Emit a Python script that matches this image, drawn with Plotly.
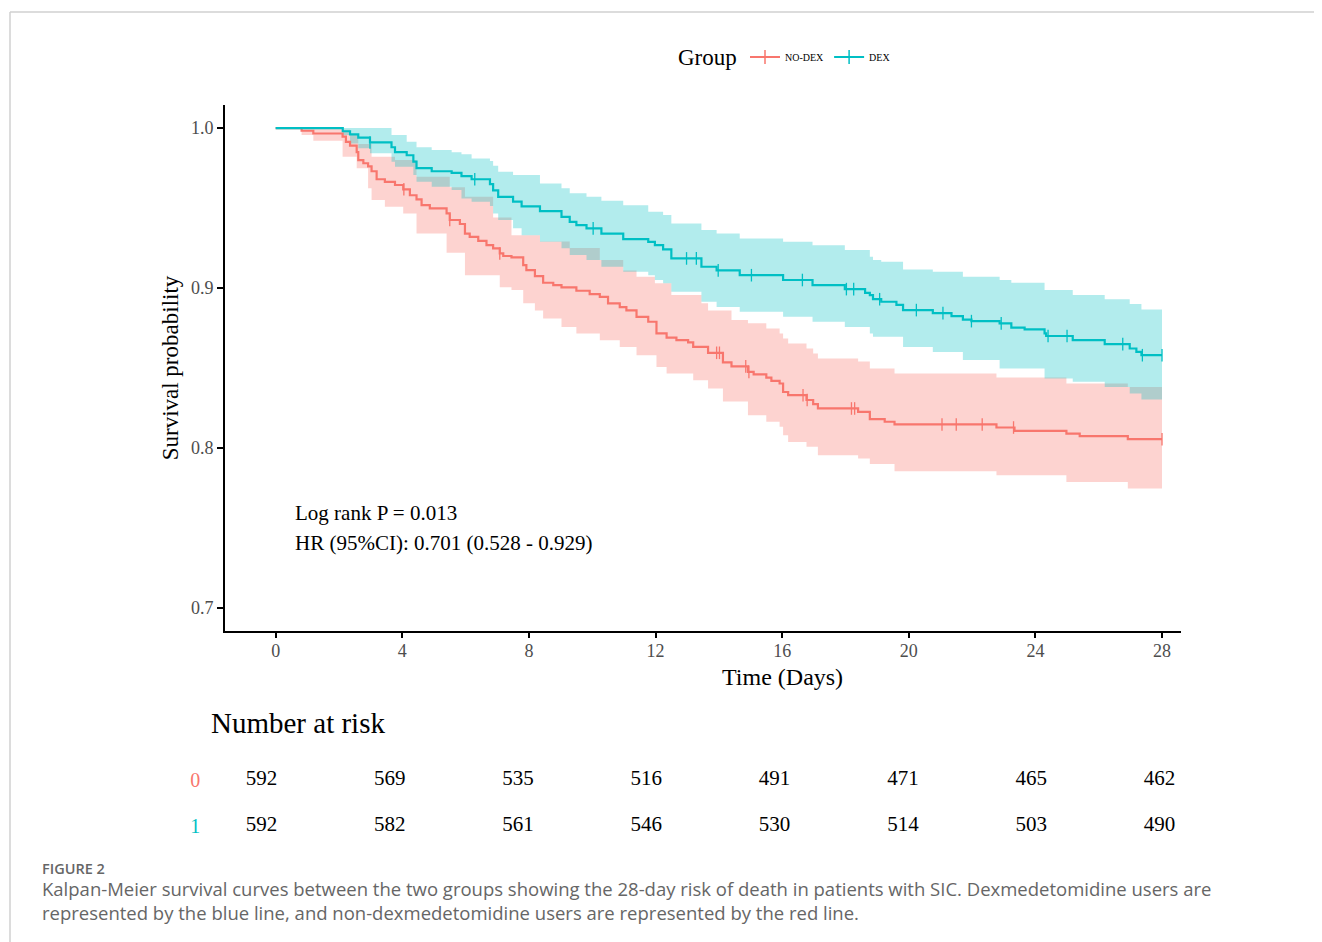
import numpy as np
import plotly.graph_objects as go

# ---------------- data ----------------
groups = ["NO-DEX", "DEX"]
strata_labels = ["0", "1"]
colors = ["#F8766D", "#00BFC4"]
fills = ["rgba(248,118,109,0.32)", "rgba(0,191,196,0.30)"]

# NO-DEX (stratum 0): Kaplan-Meier steps
t0 = [0, 0.82, 1.19, 2.115, 2.22, 2.35, 2.56, 2.61, 2.77, 2.92, 3.03, 3.19, 3.45, 3.77, 4.03, 4.24,
      4.45, 4.61, 4.87, 5.40, 5.50, 5.82, 5.98, 6.13, 6.40, 6.66, 6.87, 7.08, 7.19, 7.45, 7.82, 7.92,
      8.19, 8.45, 8.77, 9.03, 9.50, 9.92, 10.24, 10.50, 10.87, 11.08, 11.40, 11.77, 12.03, 12.35,
      12.66, 13.03, 13.19, 13.66, 14.13, 14.40, 14.92, 15.10, 15.50, 15.66, 15.92, 16.03, 16.19,
      16.77, 16.98, 17.13, 18.40, 18.77, 19.24, 19.55, 22.77, 23.34, 24.98, 25.40, 26.92, 28.0]
s0 = [1.0, 0.9983, 0.9966, 0.9946, 0.9914, 0.989, 0.985, 0.980, 0.978, 0.976, 0.973, 0.968, 0.9664,
      0.9644, 0.9617, 0.958, 0.9554, 0.9518, 0.9498, 0.9466, 0.9425, 0.940, 0.934, 0.932, 0.9295,
      0.9268, 0.9248, 0.9216, 0.920, 0.9191, 0.9143, 0.9112, 0.9074, 0.9033, 0.9018, 0.9004, 0.8983,
      0.8962, 0.8945, 0.8904, 0.888, 0.886, 0.882, 0.8789, 0.8716, 0.869, 0.8674, 0.866, 0.8632,
      0.8595, 0.8535, 0.851, 0.8476, 0.846, 0.844, 0.842, 0.8403, 0.835, 0.833, 0.830, 0.8274, 0.8247,
      0.8226, 0.818, 0.8164, 0.8147, 0.8128, 0.8107, 0.809, 0.8074, 0.8055, 0.8055]
# NO-DEX confidence band
tu0 = [0, 2.115, 2.35, 2.61, 3.03, 3.77, 4.45, 5.50, 5.98, 6.87, 7.45, 8.35, 9.29, 10.24, 10.98,
       11.40, 11.98, 12.50, 13.45, 13.66, 14.40, 14.92, 15.50, 15.92, 16.03, 16.19, 16.77, 16.98,
       17.13, 18.40, 18.77, 19.55, 22.77, 24.98, 26.92, 28.0]
u0 = [1.0, 0.999, 0.9956, 0.990, 0.982, 0.980, 0.9696, 0.963, 0.957, 0.944, 0.933, 0.929, 0.925,
      0.9175, 0.911, 0.907, 0.903, 0.8956, 0.8904, 0.886, 0.880, 0.8779, 0.8747, 0.8716, 0.8685,
      0.8653, 0.8622, 0.859, 0.856, 0.854, 0.8497, 0.8466, 0.844, 0.8403, 0.8382, 0.8382]
tl0 = [0, 0.82, 1.19, 2.115, 2.56, 2.92, 3.03, 3.45, 4.03, 4.45, 5.40, 5.98, 7.08, 7.45, 7.82, 8.19,
       8.45, 9.03, 9.50, 10.24, 10.87, 11.40, 12.03, 12.35, 13.19, 13.66, 14.13, 14.92, 15.50, 15.92,
       16.03, 16.19, 16.77, 17.13, 18.40, 18.77, 19.55, 22.77, 24.98, 26.92, 28.0]
l0 = [1.0, 0.9956, 0.992, 0.982, 0.9748, 0.9623, 0.955, 0.9508, 0.9466, 0.934, 0.922, 0.908, 0.9005,
      0.8987, 0.8904, 0.886, 0.881, 0.8757, 0.8716, 0.8674, 0.8632, 0.858, 0.8507, 0.8466, 0.8424,
      0.8372, 0.829, 0.8205, 0.8164, 0.8132, 0.808, 0.8038, 0.8007, 0.7955, 0.7934, 0.790, 0.7855,
      0.783, 0.7788, 0.7747, 0.7747]
c0 = [4.05, 5.50, 7.08, 13.93, 14.02, 14.85, 14.95, 16.66, 16.79, 18.19, 18.29, 21.05, 21.50,
      22.32, 23.31, 28.0]

# DEX (stratum 1)
t1 = [0, 2.12, 2.35, 2.61, 2.98, 3.66, 3.77, 4.14, 4.35, 4.45, 4.93, 5.56, 5.87, 6.19, 6.77, 6.87,
      7.03, 7.50, 7.77, 8.35, 9.03, 9.29, 9.50, 9.82, 10.29, 10.98, 11.77, 11.98, 12.24, 12.50, 13.45,
      13.93, 14.66, 16.03, 16.96, 17.98, 18.62, 18.77, 18.87, 19.13, 19.61, 19.82, 20.76, 21.35,
      21.71, 21.98, 22.87, 23.24, 23.66, 24.29, 24.34, 25.18, 26.19, 26.98, 27.19, 27.35, 28.0]
s1 = [1.0, 0.998, 0.996, 0.994, 0.991, 0.988, 0.985, 0.983, 0.979, 0.975, 0.973, 0.972, 0.970, 0.968,
      0.965, 0.961, 0.957, 0.954, 0.951, 0.948, 0.9445, 0.9414, 0.9393, 0.9373, 0.934, 0.9306, 0.9289,
      0.9268, 0.9241, 0.9185, 0.9133, 0.911, 0.908, 0.905, 0.9018, 0.8993, 0.897, 0.8955, 0.893,
      0.8914, 0.8895, 0.8862, 0.8843, 0.8824, 0.8803, 0.8793, 0.8779, 0.8753, 0.8741, 0.8716, 0.870,
      0.8674, 0.8649, 0.8622, 0.8601, 0.858, 0.858]
tu1 = [0, 3.66, 4.14, 4.45, 4.93, 5.56, 5.87, 6.19, 6.77, 6.87, 7.03, 7.50, 8.35, 9.03, 9.29, 9.82,
       10.29, 10.98, 11.77, 12.24, 12.50, 13.45, 13.93, 14.66, 16.03, 16.96, 17.98, 18.77, 18.87,
       19.13, 19.82, 20.76, 21.71, 22.87, 23.24, 24.29, 25.18, 26.19, 26.98, 27.35, 28.0]
u1 = [1.0, 0.9956, 0.9914, 0.988, 0.9862, 0.9848, 0.9836, 0.981, 0.9794, 0.9765, 0.9727, 0.9706,
      0.9654, 0.9623, 0.9592, 0.957, 0.9545, 0.9518, 0.9477, 0.9456, 0.9404, 0.9362, 0.934, 0.931,
      0.9289, 0.9268, 0.9237, 0.9195, 0.9175, 0.9164, 0.9116, 0.9101, 0.907, 0.905, 0.9033, 0.8987,
      0.8956, 0.8929, 0.890, 0.8866, 0.8866]
tl1 = [0, 2.12, 2.35, 2.61, 2.98, 3.66, 3.77, 4.35, 4.45, 4.93, 5.56, 5.87, 6.19, 6.77, 6.87, 7.03,
       7.50, 7.77, 8.35, 9.03, 9.29, 9.82, 10.29, 10.98, 11.77, 11.98, 12.24, 12.50, 13.45, 13.93,
       14.66, 16.03, 16.96, 17.98, 18.77, 18.87, 19.82, 20.76, 21.71, 22.87, 24.29, 25.18, 26.19,
       26.98, 27.35, 28.0]
l1 = [1.0, 0.9956, 0.9904, 0.9873, 0.9842, 0.979, 0.9758, 0.9706, 0.9664, 0.9633, 0.9612, 0.956,
      0.954, 0.9512, 0.9466, 0.9425, 0.9373, 0.933, 0.9289, 0.9248, 0.9206, 0.9175, 0.9133, 0.9101,
      0.908, 0.905, 0.9029, 0.8976, 0.8914, 0.8882, 0.8851, 0.882, 0.8789, 0.8757, 0.8716, 0.8695,
      0.8632, 0.860, 0.855, 0.8497, 0.8435, 0.8414, 0.8382, 0.834, 0.8303, 0.8303]
c1 = [2.98, 6.29, 10.03, 12.98, 13.29, 13.98, 15.03, 16.64, 18.03, 18.26, 19.08, 20.24, 21.08,
      21.98, 22.92, 24.40, 25.0, 26.76, 27.38, 28.0]

# Number at risk
risk_times = [0, 4, 8, 12, 16, 20, 24, 28]
risk0 = [592, 569, 535, 516, 491, 471, 465, 462]
risk1 = [592, 582, 561, 546, 530, 514, 503, 490]

x_ticks = [0, 4, 8, 12, 16, 20, 24, 28]
y_ticks = [0.7, 0.8, 0.9, 1.0]

stats_lines = ["Log rank P = 0.013", "HR (95%CI): 0.701 (0.528 - 0.929)"]
caption_label = "FIGURE 2"
caption_lines = [
    "Kalpan-Meier survival curves between the two groups showing the 28-day risk of death in patients with SIC. Dexmedetomidine users are",
    "represented by the blue line, and non-dexmedetomidine users are represented by the red line.",
]

# ---------------- figure ----------------
SERIF = "Liberation Serif"
series = [
    dict(t=t0, s=s0, tu=tu0, u=u0, tl=tl0, l=l0, c=c0),
    dict(t=t1, s=s1, tu=tu1, u=u1, tl=tl1, l=l1, c=c1),
]

fig = go.Figure()

# confidence ribbons
for i, d in enumerate(series):
    fig.add_trace(go.Scatter(x=d["tl"], y=d["l"], mode="lines", line=dict(width=0, shape="hv"),
                             showlegend=False, hoverinfo="skip"))
    fig.add_trace(go.Scatter(x=d["tu"], y=d["u"], mode="lines", line=dict(width=0, shape="hv"),
                             fill="tonexty", fillcolor=fills[i], showlegend=False, hoverinfo="skip"))

# survival curves
for i, d in enumerate(series):
    fig.add_trace(go.Scatter(x=d["t"], y=d["s"], mode="lines",
                             line=dict(color=colors[i], width=2.2, shape="hv"),
                             showlegend=False, name=groups[i]))

# censor marks
for i, d in enumerate(series):
    tt = np.array(d["t"])
    ss = np.array(d["s"])
    idx = np.searchsorted(tt, np.array(d["c"]), side="right") - 1
    fig.add_trace(go.Scatter(x=d["c"], y=ss[idx], mode="markers",
                             marker=dict(symbol="line-ns", size=9,
                                         line=dict(width=1.3, color=colors[i])),
                             showlegend=False, hoverinfo="skip"))

# legend entries
for i, g in enumerate(groups):
    fig.add_trace(go.Scatter(x=[None], y=[None], mode="lines+markers", name=g,
                             line=dict(color=colors[i], width=2),
                             marker=dict(symbol="line-ns", size=10,
                                         line=dict(width=1.5, color=colors[i]))))

# risk table
for i, r in enumerate([risk0, risk1]):
    fig.add_trace(go.Scatter(x=risk_times, y=[i] * len(risk_times), mode="text",
                             text=[str(v) for v in r], textposition="middle center",
                             textfont=dict(family=SERIF, size=21, color="black"),
                             cliponaxis=False,
                             xaxis="x2", yaxis="y2", showlegend=False, hoverinfo="skip"))

# geometry: the page puts the figure 8 px from the top-left corner
OFF = 8
W, H = 1314, 934
ML, MT = 225 - OFF, 105 - OFF
PW = 956
MR = W - ML - PW
PAPER_BOTTOM = 850 - OFF
MB = H - PAPER_BOTTOM
PH = PAPER_BOTTOM - MT


def px(xp):
    return (xp - OFF - ML) / PW


def py(yp):
    return (PAPER_BOTTOM - (yp - OFF)) / PH


fig.update_layout(
    width=W, height=H,
    margin=dict(l=ML, r=MR, t=MT, b=MB),
    paper_bgcolor="white", plot_bgcolor="white",
    font=dict(family=SERIF, color="black"),
    xaxis=dict(range=[-1.6, 28.6], tickvals=x_ticks, ticks="outside", ticklen=5, tickwidth=1.5,
               tickcolor="black", showline=True, linewidth=2, linecolor="black", showgrid=False,
               zeroline=False, anchor="y", ticklabelstandoff=-3,
               tickfont=dict(family=SERIF, size=18, color="#4d4d4d")),
    yaxis=dict(range=[0.6856, 1.0144], domain=[py(631), 1], tickvals=y_ticks, tickformat=".1f",
               ticks="outside", ticklen=6, tickwidth=1.5, tickcolor="black", showline=True,
               linewidth=2, linecolor="black", showgrid=False, zeroline=False, anchor="x",
               tickfont=dict(family=SERIF, size=18, color="#4d4d4d"),
               title=dict(text="Survival probability", font=dict(family=SERIF, size=23), standoff=6)),
    xaxis2=dict(domain=[px(226.2), px(1169.1)], range=[-1.1, 28.3], anchor="y2", visible=False),
    yaxis2=dict(domain=[py(849), py(757)], range=[1.5, -0.5], anchor="x2",
                tickvals=[0, 1],
                ticktext=[f'<span style="color:{colors[i]}">{lab}</span>' for i, lab in enumerate(strata_labels)],
                tickfont=dict(family=SERIF, size=20), showline=False, showgrid=False, zeroline=False,
                ticks="", ticklabelstandoff=25),
    legend=dict(orientation="h", x=px(745), xanchor="left", y=py(57), yanchor="middle",
                traceorder="normal",
                font=dict(family=SERIF, size=10), itemwidth=30, bgcolor="rgba(0,0,0,0)"),
)

annotations = []
annotations.append(dict(x=px(676), y=py(57), xref="paper", yref="paper", text="Group",
                        showarrow=False, xanchor="left", yanchor="middle",
                        font=dict(family=SERIF, size=23, color="black")))
annotations.append(dict(x=16, y=py(677), xref="x", yref="paper", text="Time (Days)",
                        showarrow=False, xanchor="center", yanchor="middle",
                        font=dict(family=SERIF, size=24, color="black")))
for k, line in enumerate(stats_lines):
    annotations.append(dict(x=0.55, y=[0.7592, 0.7405][k], xref="x", yref="y", text=line,
                            showarrow=False, xanchor="left", yanchor="middle",
                            font=dict(family=SERIF, size=21, color="black")))
annotations.append(dict(x=px(209), y=py(723), xref="paper", yref="paper", text="Number at risk",
                        showarrow=False, xanchor="left", yanchor="middle",
                        font=dict(family=SERIF, size=29, color="black")))
annotations.append(dict(x=px(40), y=py(868), xref="paper", yref="paper", text=caption_label,
                        showarrow=False, xanchor="left", yanchor="middle",
                        font=dict(family="Open Sans", size=14.5, color="#666666", weight=600)))
for k, line in enumerate(caption_lines):
    annotations.append(dict(x=px(40), y=py([888, 912][k]), xref="paper", yref="paper", text=line,
                            showarrow=False, xanchor="left", yanchor="middle",
                            font=dict(family="Open Sans", size=18.5, color="#666666")))
fig.update_layout(annotations=annotations)

# page frame lines
fig.add_shape(type="line", xref="paper", yref="paper", x0=px(10), x1=px(1322), y0=py(12), y1=py(12),
              line=dict(color="#d0d0d0", width=1.5))
fig.add_shape(type="line", xref="paper", yref="paper", x0=px(10), x1=px(10), y0=py(12), y1=py(942),
              line=dict(color="#d0d0d0", width=1.5))

fig.write_html("out.html")
